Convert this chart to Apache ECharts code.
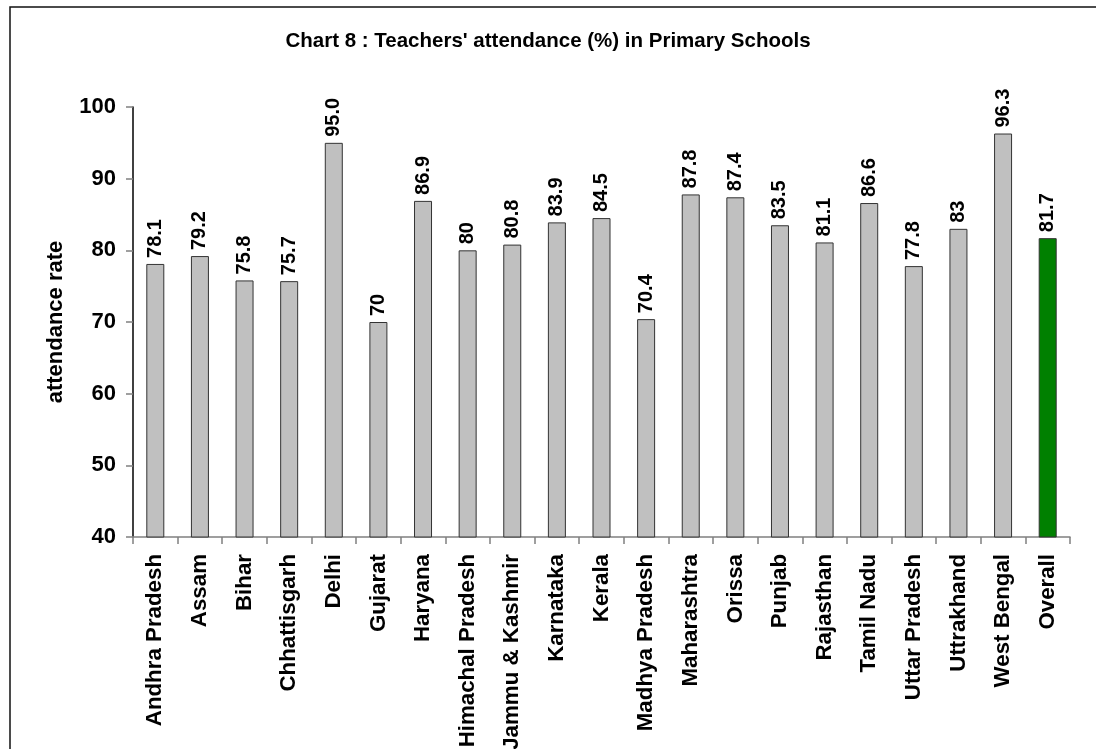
<!DOCTYPE html>
<html>
<head>
<meta charset="utf-8">
<script src="https://cdn.jsdelivr.net/npm/echarts@6/dist/echarts.min.js"></script>
<style>
html,body{margin:0;padding:0;background:#fff;}
#chart{width:1096px;height:749px;}
</style>
</head>
<body>
<div id="chart"></div>
<script>
const categories = ["Andhra Pradesh","Assam","Bihar","Chhattisgarh","Delhi","Gujarat","Haryana","Himachal Pradesh","Jammu & Kashmir","Karnataka","Kerala","Madhya Pradesh","Maharashtra","Orissa","Punjab","Rajasthan","Tamil Nadu","Uttar Pradesh","Uttrakhand","West Bengal","Overall"];
const values = [78.1,79.2,75.8,75.7,95.0,70,86.9,80,80.8,83.9,84.5,70.4,87.8,87.4,83.5,81.1,86.6,77.8,83,96.3,81.7];
const valueLabels = ["78.1","79.2","75.8","75.7","95.0","70","86.9","80","80.8","83.9","84.5","70.4","87.8","87.4","83.5","81.1","86.6","77.8","83","96.3","81.7"];
const yTicks = [40,50,60,70,80,90,100];

const FONT = '"Liberation Sans", Arial, sans-serif';
const chart = echarts.init(document.getElementById('chart'), null, {renderer:'canvas'});
const option = {
  animation: false,
  backgroundColor: '#fff',
  title: {
    text: "Chart 8 : Teachers' attendance (%) in Primary Schools",
    left: 'center', top: 26,
    textStyle: {fontFamily: FONT, fontWeight: 'bold', fontSize: 20.5, color: '#000'}
  },
  graphic: [{
    type: 'rect', silent: true, z: 100,
    shape: {x: 10, y: 7, width: 1200, height: 900},
    style: {fill: 'none', stroke: '#111', lineWidth: 1.5}
  }],
  grid: {left: 133, right: 26, top: 107, bottom: 212, containLabel: false, outerBoundsMode: 'none'},
  xAxis: {
    type: 'category',
    data: categories,
    boundaryGap: true,
    axisLine: {show: true, lineStyle: {color: '#808080', width: 1.5}},
    axisTick: {show: true, alignWithLabel: false, length: 7, lineStyle: {color: '#808080', width: 1.5}},
    axisLabel: {
      rotate: 90, interval: 0, margin: 17,
      fontFamily: FONT, fontWeight: 'bold', fontSize: 22.3, color: '#000'
    },
    splitLine: {show: false}
  },
  yAxis: {
    type: 'value',
    min: yTicks[0], max: yTicks[yTicks.length-1], interval: 10,
    name: 'attendance rate',
    nameLocation: 'middle', nameRotate: 90, nameGap: 66,
    nameTextStyle: {fontFamily: FONT, fontWeight: 'bold', fontSize: 22, color: '#000'},
    axisLine: {show: true, lineStyle: {color: '#000', width: 1.5}},
    axisTick: {show: true, inside: false, length: 7, lineStyle: {color: '#808080', width: 1.5}},
    axisLabel: {margin: 17, fontFamily: FONT, fontWeight: 'bold', fontSize: 22, color: '#000'},
    splitLine: {show: false}
  },
  series: [{
    type: 'bar',
    barWidth: 18,
    data: values.map((v, i) => ({
      value: v,
      itemStyle: {
        color: i === values.length - 1 ? '#008000' : '#c0c0c0',
        borderColor: '#333', borderWidth: 1
      }
    })),
    label: {
      show: true, position: 'top', rotate: 90, align: 'left', verticalAlign: 'middle',
      distance: 6,
      formatter: p => valueLabels[p.dataIndex],
      fontFamily: FONT, fontWeight: 'bold', fontSize: 20, color: '#000'
    }
  }]
};
chart.setOption(option);
</script>
</body>
</html>
